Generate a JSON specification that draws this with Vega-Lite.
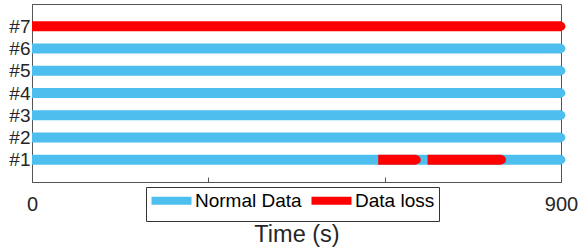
{
  "$schema": "https://vega.github.io/schema/vega-lite/v6.json",
  "autosize": {"type": "none"},
  "width": 529,
  "height": 178,
  "padding": {"left": 32, "top": 4, "right": 20, "bottom": 68},
  "config": {
    "font": "Liberation Sans",
    "view": {"stroke": "#555", "strokeWidth": 1},
    "axis": {"domainColor": "#555", "tickColor": "#555", "labelColor": "#262626", "titleColor": "#262626", "grid": false}
  },
  "data": {
    "values": [
      {"sensor": 1, "start": 0, "end": 900, "type": "Normal Data"},
      {"sensor": 2, "start": 0, "end": 900, "type": "Normal Data"},
      {"sensor": 3, "start": 0, "end": 900, "type": "Normal Data"},
      {"sensor": 4, "start": 0, "end": 900, "type": "Normal Data"},
      {"sensor": 5, "start": 0, "end": 900, "type": "Normal Data"},
      {"sensor": 6, "start": 0, "end": 900, "type": "Normal Data"},
      {"sensor": 7, "start": 0, "end": 900, "type": "Data loss"},
      {"sensor": 1, "start": 589, "end": 654, "type": "Data loss"},
      {"sensor": 1, "start": 673, "end": 799, "type": "Data loss"}
    ]
  },
  "encoding": {
    "y": {
      "field": "sensor", "type": "quantitative",
      "scale": {"domain": [0, 8], "nice": false, "zero": false},
      "axis": {"title": null, "values": [1, 2, 3, 4, 5, 6, 7], "labelExpr": "'#' + datum.value", "ticks": false, "labelPadding": 2, "labelFontSize": 19, "labelBaseline": "middle"}
    },
    "color": {
      "field": "type", "type": "nominal",
      "scale": {"domain": ["Normal Data", "Data loss"], "range": ["#4DBEEE", "#FF0000"]},
      "legend": {
        "title": null, "orient": "none", "legendX": 114, "legendY": 183, "direction": "horizontal",
        "symbolType": "M-2,0H8", "symbolSize": 64, "symbolStrokeWidth": 8,
        "labelFontSize": 19, "labelColor": "#000", "labelOffset": 26, "columnPadding": -7,
        "padding": 4, "fillColor": "white", "strokeColor": "#333"
      }
    }
  },
  "layer": [
    {
      "mark": {"type": "rule", "strokeWidth": 10, "strokeCap": "butt"},
      "encoding": {
        "x": {
          "field": "start", "type": "quantitative",
          "scale": {"domain": [0, 900], "nice": false},
          "axis": {"title": "Time (s)", "values": [0, 300, 600, 900], "labelExpr": "datum.value == 0 || datum.value == 900 ? datum.label : ''", "tickSize": -5, "labelPadding": 17, "labelFontSize": 20, "labelFlush": false, "titleFontSize": 23.5, "titleFontWeight": "normal", "titlePadding": 8}
        },
        "x2": {"field": "end"}
      }
    },
    {
      "mark": {"type": "point", "shape": "circle", "filled": true, "size": 78, "opacity": 1},
      "encoding": {
        "x": {"field": "end", "type": "quantitative"}
      }
    }
  ]
}
